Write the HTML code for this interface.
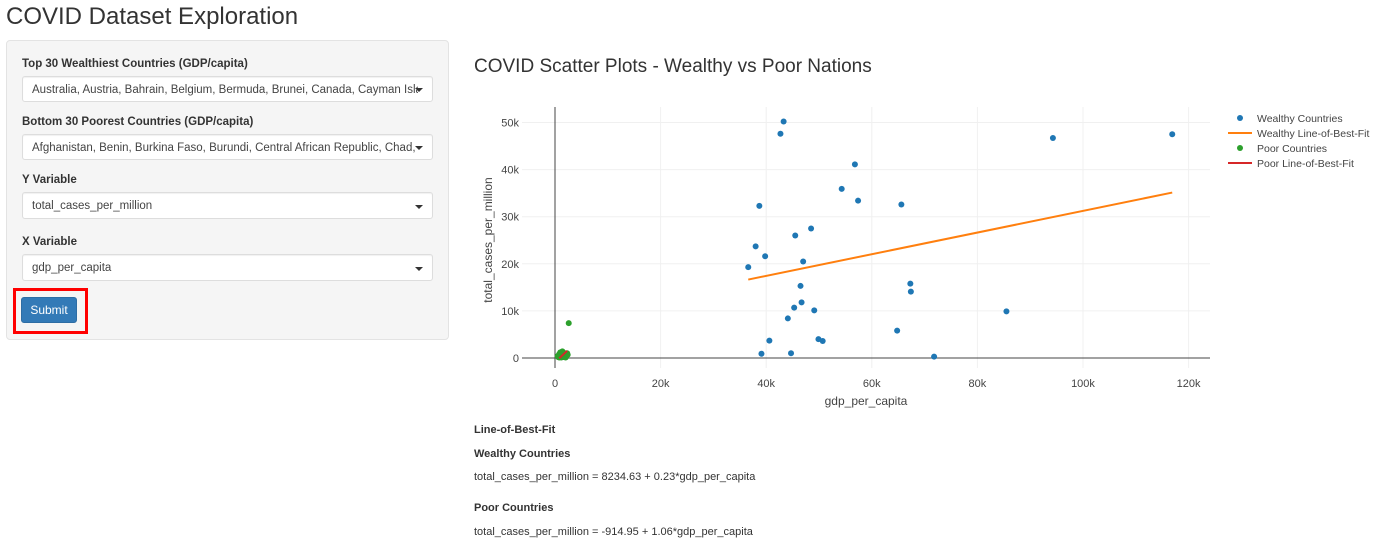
<!DOCTYPE html>
<html><head><meta charset="utf-8"><style>
body{margin:0;width:1378px;height:546px;overflow:hidden;background:#fff;font-family:"Liberation Sans",Arial,sans-serif;color:#333;position:relative}
.a{position:absolute}
h1{position:absolute;left:6px;top:3px;margin:0;font-size:24px;font-weight:normal;color:#333}
.panel{left:6px;top:40px;width:441px;height:298px;background:#f5f5f5;border:1px solid #e3e3e3;border-radius:4px}
.lbl{font-size:11.5px;font-weight:bold;color:#333}
.sel{background:#fff;border:1px solid #ddd;border-radius:3px;width:411px;height:26px;font-size:11.5px;line-height:26px;box-sizing:border-box;color:#444;box-shadow:inset 0 1px 1px rgba(0,0,0,.06)}
.sel .tx{position:absolute;left:9px;right:14px;top:0;white-space:nowrap;overflow:hidden}
.caret{position:absolute;right:9px;top:11px;border-left:4px solid transparent;border-right:4px solid transparent;border-top:4px solid #333}
.t{font-size:11px;color:#333}
</style></head><body>
<h1>COVID Dataset Exploration</h1>
<div class="a panel"></div>
<div class="a lbl" style="left:22px;top:58px">Top 30 Wealthiest Countries (GDP/capita)</div>
<div class="a sel" style="left:22px;top:76px"><span class="tx">Australia, Austria, Bahrain, Belgium, Bermuda, Brunei, Canada, Cayman Islands</span><span class="caret"></span></div>
<div class="a lbl" style="left:22px;top:116px">Bottom 30 Poorest Countries (GDP/capita)</div>
<div class="a sel" style="left:22px;top:134px"><span class="tx">Afghanistan, Benin, Burkina Faso, Burundi, Central African Republic, Chad, Congo</span><span class="caret"></span></div>
<div class="a lbl" style="left:22px;top:174px">Y Variable</div>
<div class="a sel" style="left:22px;top:192px;height:27px;line-height:27px"><span class="tx">total_cases_per_million</span><span class="caret" style="top:12px"></span></div>
<div class="a lbl" style="left:22px;top:236px">X Variable</div>
<div class="a sel" style="left:22px;top:254px;height:27px;line-height:27px"><span class="tx">gdp_per_capita</span><span class="caret" style="top:12px"></span></div>
<div class="a" style="left:13px;top:288px;width:75px;height:46px;border:3px solid #f00;box-sizing:border-box"></div>
<div class="a" style="left:21px;top:297px;width:56px;height:26px;background:#337ab7;border:1px solid #2e6da4;border-radius:3px;box-sizing:border-box;color:#fff;font-size:12px;line-height:24px;text-align:center">Submit</div>

<div class="a" style="left:474px;top:56px;font-size:19px;color:#333">COVID Scatter Plots - Wealthy vs Poor Nations</div>
<svg class="a" style="left:0;top:0" width="1378" height="546" id="chart"></svg>

<div class="a t" style="left:474px;top:424px;font-weight:bold">Line-of-Best-Fit</div>
<div class="a t" style="left:474px;top:448px;font-weight:bold">Wealthy Countries</div>
<div class="a t" style="left:474px;top:471px">total_cases_per_million = 8234.63 + 0.23*gdp_per_capita</div>
<div class="a t" style="left:474px;top:502px;font-weight:bold">Poor Countries</div>
<div class="a t" style="left:474px;top:526px">total_cases_per_million = -914.95 + 1.06*gdp_per_capita</div>

<script>
const wealthyX=[36.6,38.0,38.7,39.1,39.8,40.6,42.7,43.3,44.1,44.7,45.3,45.5,46.5,46.7,47.0,48.5,49.1,49.9,50.7,54.3,56.8,57.4,64.8,65.6,67.3,67.4,71.8,85.5,94.3,116.9];
const wealthyY=[19.3,23.7,32.3,0.9,21.6,3.7,47.6,50.2,8.4,1.0,10.7,26.0,15.3,11.8,20.5,27.5,10.1,4.0,3.6,35.9,41.1,33.4,5.8,32.6,15.8,14.1,0.3,9.9,46.7,47.5];
const poorX=[0.6,0.8,1.0,1.1,1.2,1.3,1.4,1.5,0.7,0.9,1.6,1.7,1.8,1.9,2.0,2.1,2.2,2.3,0.5,0.8,1.0,1.2,1.4,1.6,1.8,2.0,1.3,2.4,0.9,2.6];
const poorY=[0.2,0.8,0.4,1.0,0.1,0.5,1.4,0.9,0.6,0.3,0.2,1.1,0.5,0.3,0.8,0.2,0.6,1.0,0.4,0.1,1.2,0.7,0.3,0.5,0.9,0.1,0.3,0.7,0.9,7.4];
const xTicks=[0,20,40,60,80,100,120];
const yTicks=[0,10,20,30,40,50];
const wFit=[8.23463,0.23], pFit=[-0.91495,1.06];
const X=v=>555+v*5.28, Y=v=>358-v*4.71;
const svg=document.getElementById('chart'),NS='http://www.w3.org/2000/svg';
function mk(t,a,name){const e=document.createElementNS(NS,t);for(const k in a)e.setAttribute(k,a[k]);


svg.appendChild(e);return e;}
xTicks.forEach(v=>{if(v>0)mk('line',{x1:X(v),x2:X(v),y1:107,y2:368,stroke:'#f0f0f0'},'x-gridline');
const t=mk('text',{x:X(v),y:387,'text-anchor':'middle','font-size':11,fill:'#444','font-family':'Liberation Sans'},'x-tick-label');t.textContent=v?v+'k':'0';});
yTicks.forEach(v=>{if(v>0)mk('line',{x1:522,x2:1210,y1:Y(v),y2:Y(v),stroke:'#f0f0f0'},'y-gridline');
const t=mk('text',{x:519,y:Y(v)+4,'text-anchor':'end','font-size':11,fill:'#444','font-family':'Liberation Sans'},'y-tick-label');t.textContent=v?v+'k':'0';});
mk('line',{x1:522,x2:1210,y1:358,y2:358,stroke:'#444'},'x-zero-line');
mk('line',{x1:555,x2:555,y1:107,y2:368,stroke:'#444'},'y-zero-line');
let t=mk('text',{x:866,y:405,'text-anchor':'middle','font-size':12,fill:'#444','font-family':'Liberation Sans'},'x-axis-title');t.textContent='gdp_per_capita';
t=mk('text',{x:492,y:240,'text-anchor':'middle','font-size':12,fill:'#444','font-family':'Liberation Sans',transform:'rotate(-90 492 240)'},'y-axis-title');t.textContent='total_cases_per_million';
wealthyX.forEach((x,i)=>mk('circle',{cx:X(x),cy:Y(wealthyY[i]),r:3,fill:'#1f77b4'},'wealthy-point'));
const wx0=Math.min(...wealthyX),wx1=Math.max(...wealthyX);
mk('line',{x1:X(wx0),y1:Y(wFit[0]+wFit[1]*wx0),x2:X(wx1),y2:Y(wFit[0]+wFit[1]*wx1),stroke:'#ff7f0e','stroke-width':2},'wealthy-fit-line');
poorX.forEach((x,i)=>mk('circle',{cx:X(x),cy:Y(poorY[i]),r:3,fill:'#2ca02c'},'poor-point'));
const px0=0.8,px1=2.3;
mk('line',{x1:X(px0),y1:Y(pFit[0]+pFit[1]*px0),x2:X(px1),y2:Y(pFit[0]+pFit[1]*px1),stroke:'#d62728','stroke-width':2},'poor-fit-line');
const leg=[['Wealthy Countries','#1f77b4',0],['Wealthy Line-of-Best-Fit','#ff7f0e',1],['Poor Countries','#2ca02c',0],['Poor Line-of-Best-Fit','#d62728',1]];
leg.forEach((l,i)=>{const y=118+i*15;
if(l[2])mk('line',{x1:1228,x2:1252,y1:y,y2:y,stroke:l[1],'stroke-width':2},'legend-line');else mk('circle',{cx:1240,cy:y,r:3,fill:l[1]},'legend-marker');
const tt=mk('text',{x:1257,y:y+4,'font-size':10.5,fill:'#444','font-family':'Liberation Sans'},'legend-entry');tt.textContent=l[0];});
</script>
</body></html>
